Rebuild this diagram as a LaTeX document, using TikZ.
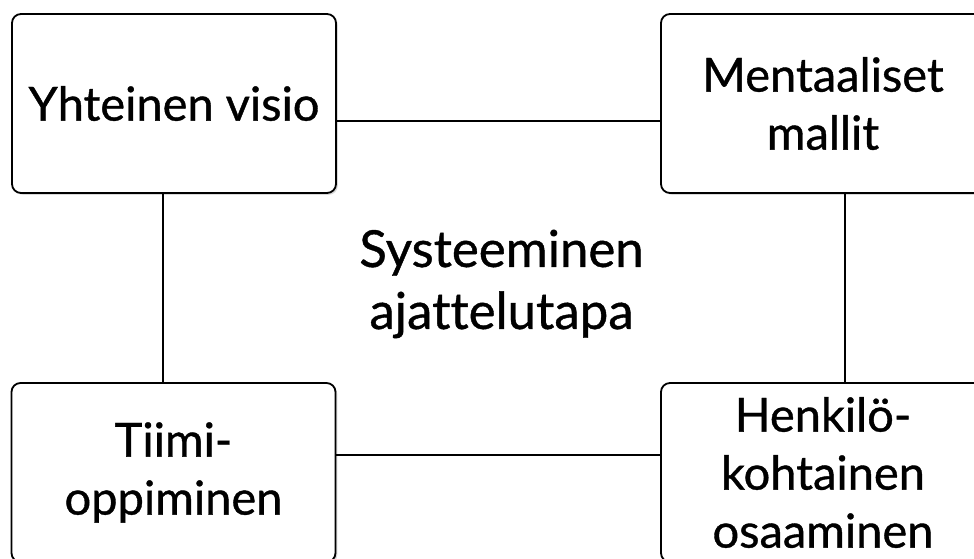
\documentclass[tikz,border=0pt]{standalone}
\usepackage{fontspec}
\setmainfont{Lato}[Ligatures={NoCommon}, FakeBold=0.8]
\usetikzlibrary{shadows}
\begin{document}
\begin{tikzpicture}[x=1pt,y=-1pt,
  box/.style={draw=black, line width=1.8pt, rounded corners=9pt, fill=white,
    minimum width=324pt, minimum height=179pt, align=center, inner sep=0pt,
    font=\fontsize{47}{58}\selectfont,
    drop shadow={opacity=0.3, shadow xshift=1.8pt, shadow yshift=-1.8pt}},
  link/.style={draw=black, line width=1.5pt},
  hub/.style={align=center, inner sep=0pt, font=\fontsize{51}{62}\selectfont}]
  \useasboundingbox (0,0) rectangle (974,558);
  % the four disciplines
  \node[box] (vis) at (174,103.5) {Yhteinen visio};
  \node[box] (men) at (823,103.5) {Mentaaliset\\mallit};
  \node[box] (tii) at (173.5,472.5) {Tiimi-\\oppiminen};
  \node[box] (hen) at (823,472.5) {Henkilö-\\kohtainen\\osaaminen};
  % connecting lines
  \draw[link] ([yshift=-17.5pt]vis.east) -- ([yshift=-17.5pt]men.west);
  \draw[link] ([xshift=-11pt]vis.south) -- ([xshift=-10.5pt]tii.north);
  \draw[link] ([xshift=22pt]men.south) -- ([xshift=22pt]hen.north);
  \draw[link] ([yshift=17.5pt]tii.east) -- ([yshift=17.5pt]hen.west);
  % central label
  \node[hub] (sys) at (501.5,284) {Systeeminen\\ajattelutapa};
\end{tikzpicture}
\end{document}
